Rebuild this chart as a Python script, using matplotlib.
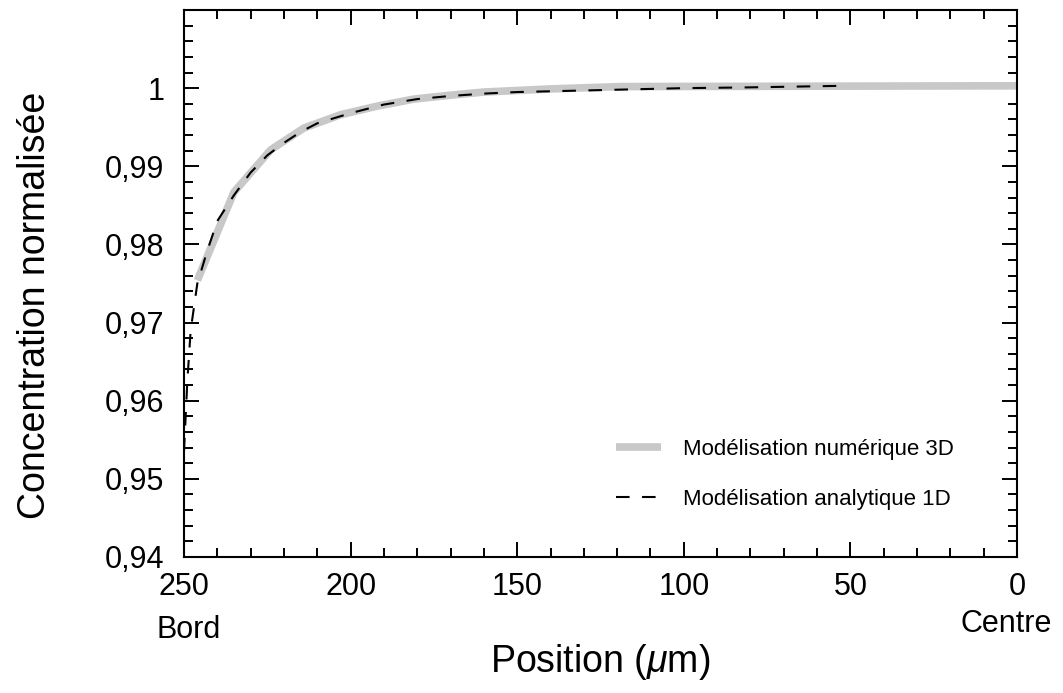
import matplotlib
matplotlib.use("Agg")
import matplotlib.pyplot as plt
from matplotlib.ticker import MultipleLocator, FuncFormatter

plt.rcParams['font.family'] = ['Liberation Sans', 'DejaVu Sans']
plt.rcParams['mathtext.fontset'] = 'custom'
plt.rcParams['mathtext.it'] = 'Liberation Sans:italic'
plt.rcParams['mathtext.rm'] = 'Liberation Sans'

# Numerical 3D model (gray)
x_num = [246, 235, 224, 214, 203, 192, 181, 170, 160, 140, 119, 0]
y_num = [0.9754, 0.9867, 0.9921, 0.9949, 0.9966, 0.9977, 0.9986, 0.9991, 0.9995, 0.9999, 1.0002, 1.0003]

# Analytical 1D model (dashed)
x_ana = [250, 249, 248, 246, 243, 240, 235, 230, 225, 220, 215, 210, 200, 190, 180, 170, 160, 150, 140, 120, 100, 80, 52]
y_ana = [0.9535, 0.9625, 0.9690, 0.9750, 0.9792, 0.9830, 0.9863, 0.9892, 0.9914, 0.9930, 0.9944, 0.9955, 0.9968, 0.9979, 0.9986, 0.9990, 0.9993, 0.9995, 0.9996, 0.9998, 1.0000, 1.0001, 1.0003]

label_num = "Modélisation numérique 3D"
label_ana = "Modélisation analytique 1D"

fig = plt.figure(figsize=(10.63, 6.93), dpi=100)
ax = fig.add_axes([184/1063, 1 - 557/693, (1017-184)/1063, (557-10)/693])

ax.plot(x_num, y_num, color='#c8c8c8', lw=5.5, solid_capstyle='butt', label=label_num)
ax.plot(x_ana, y_ana, color='black', lw=1.5, dashes=(6.5, 6), label=label_ana)

ax.set_xlim(250, 0)
ax.set_ylim(0.94, 1.01)
ax.xaxis.set_major_locator(MultipleLocator(50))
ax.xaxis.set_minor_locator(MultipleLocator(10))
ax.yaxis.set_major_locator(MultipleLocator(0.01))
ax.yaxis.set_minor_locator(MultipleLocator(0.002))

def yfmt(v, pos):
    if abs(v - 1) < 1e-9:
        return "1"
    if v > 1.0001:
        return ""
    return ("%.2f" % v).replace('.', ',')
ax.yaxis.set_major_formatter(FuncFormatter(yfmt))
ax.xaxis.set_major_formatter(FuncFormatter(lambda v, p: "%d" % round(v)))

ax.tick_params(which='both', direction='in', top=True, right=True, width=1.4, labelsize=22)
ax.tick_params(which='major', length=11)
ax.tick_params(which='minor', length=6.5)
ax.tick_params(axis='y', pad=14)
ax.tick_params(axis='x', pad=11)
for s in ax.spines.values():
    s.set_linewidth(1.5)

fig.text(35/1063, 1 - 305/693, "Concentration normalisée", fontsize=27,
         rotation=90, ha='center', va='center')
fig.text(600/1063, 1 - 662/693, "Position ($\\mu$m)", fontsize=27, ha='center', va='center')

fig.text(189/1063, 1 - 630/693, "Bord", fontsize=22, ha='center', va='center')
fig.text(1006/1063, 1 - 624/693, "Centre", fontsize=22, ha='center', va='center')

leg = ax.legend(loc='lower right', bbox_to_anchor=(0.948, 0.05), frameon=False,
                fontsize=16, handlelength=2.0, handletextpad=1.0, labelspacing=1.3)

fig.savefig("out.png", dpi=100)
